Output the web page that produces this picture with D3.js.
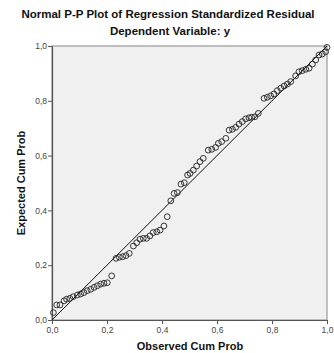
<!DOCTYPE html>
<html><head><meta charset="utf-8">
<script src="https://cdn.jsdelivr.net/npm/d3@7"></script>
<style>body{margin:0;background:#fff}svg{display:block}</style>
</head><body>
<svg id="c" width="334" height="353"></svg>
<script>
const title1 = "Normal P-P Plot of Regression Standardized Residual";
const title2 = "Dependent Variable: y";
const xLabel = "Observed Cum Prob";
const yLabel = "Expected Cum Prob";
const tickValues = [0, 0.2, 0.4, 0.6, 0.8, 1.0];
const tickLabels = ["0,0", "0,2", "0,4", "0,6", "0,8", "1,0"];
const observed = [0.005,0.017,0.029,0.044,0.053,0.065,0.077,0.092,0.104,0.116,0.128,0.141,0.153,0.165,0.177,0.189,0.201,0.217,0.233,0.245,0.257,0.269,0.281,0.296,0.308,0.320,0.332,0.344,0.356,0.368,0.381,0.393,0.407,0.419,0.432,0.444,0.456,0.469,0.481,0.493,0.502,0.514,0.526,0.538,0.550,0.568,0.581,0.595,0.605,0.617,0.632,0.644,0.656,0.668,0.680,0.692,0.704,0.716,0.726,0.738,0.750,0.771,0.783,0.795,0.807,0.819,0.832,0.844,0.856,0.868,0.886,0.898,0.910,0.923,0.935,0.947,0.959,0.971,0.983,0.995,1.0];
const expected = [0.027,0.055,0.055,0.070,0.076,0.079,0.085,0.091,0.095,0.100,0.107,0.112,0.119,0.125,0.131,0.134,0.136,0.161,0.225,0.229,0.231,0.235,0.243,0.270,0.282,0.295,0.298,0.298,0.307,0.319,0.322,0.328,0.343,0.377,0.435,0.462,0.465,0.496,0.501,0.529,0.535,0.547,0.562,0.578,0.590,0.620,0.623,0.630,0.645,0.651,0.663,0.693,0.696,0.703,0.715,0.724,0.734,0.738,0.740,0.742,0.754,0.809,0.813,0.818,0.825,0.837,0.846,0.854,0.861,0.870,0.891,0.906,0.910,0.915,0.919,0.934,0.949,0.967,0.971,0.979,0.995];
const refLine = [0, 1];

const svg = d3.select("#c");
const L = 52, R = 327, T = 46, B = 320;
const x = d3.scaleLinear().domain([0, 1]).range([L, R]);
const y = d3.scaleLinear().domain([0, 1]).range([B, T]);
const font = "Arial, 'Liberation Sans', sans-serif";

svg.append("rect").attr("x", L).attr("y", T).attr("width", R - L).attr("height", B - T)
  .attr("fill", "#f0f0f0").attr("stroke", "#999").attr("stroke-width", 1.2);

svg.append("text").attr("x", 168).attr("y", 18).attr("text-anchor", "middle")
  .attr("font-family", font).attr("font-weight", "bold").attr("font-size", 11.5).attr("fill", "#111").text(title1);
svg.append("text").attr("x", 170).attr("y", 35).attr("text-anchor", "middle")
  .attr("font-family", font).attr("font-weight", "bold").attr("font-size", 11.5).attr("fill", "#111").text(title2);

const xAxis = d3.axisBottom(x).tickValues(tickValues).tickFormat((d, i) => tickLabels[i]).tickSize(4).tickSizeOuter(0);
const yAxis = d3.axisLeft(y).tickValues(tickValues).tickFormat((d, i) => tickLabels[i]).tickSize(4).tickSizeOuter(0);
const gx = svg.append("g").attr("transform", `translate(0,${B})`).call(xAxis);
const gy = svg.append("g").attr("transform", `translate(${L},0)`).call(yAxis);
[gx, gy].forEach(g => {
  g.selectAll("path").attr("stroke", "#555").attr("stroke-width", 1.2);
  g.selectAll("line").attr("stroke", "#555");
  g.selectAll("text").attr("font-family", font).attr("font-size", 8.5).attr("fill", "#444");
});
gx.selectAll("text").attr("dy", "0.9em").attr("y", 5);
gy.selectAll("text").attr("x", -5);

svg.append("line").attr("x1", x(refLine[0])).attr("y1", y(refLine[0]))
  .attr("x2", x(refLine[1])).attr("y2", y(refLine[1])).attr("stroke", "#111").attr("stroke-width", 1);

svg.append("g").selectAll("circle").data(observed).join("circle")
  .attr("cx", d => x(d)).attr("cy", (d, i) => y(expected[i])).attr("r", 2.9)
  .attr("fill", "none").attr("stroke", "#222").attr("stroke-width", 0.9);

svg.append("text").attr("x", 190).attr("y", 350).attr("text-anchor", "middle")
  .attr("font-family", font).attr("font-weight", "bold").attr("font-size", 11).attr("fill", "#111").text(xLabel);
svg.append("text").attr("transform", "translate(25,183) rotate(-90)").attr("text-anchor", "middle")
  .attr("font-family", font).attr("font-weight", "bold").attr("font-size", 11).attr("fill", "#111").text(yLabel);
</script>
</body></html>
